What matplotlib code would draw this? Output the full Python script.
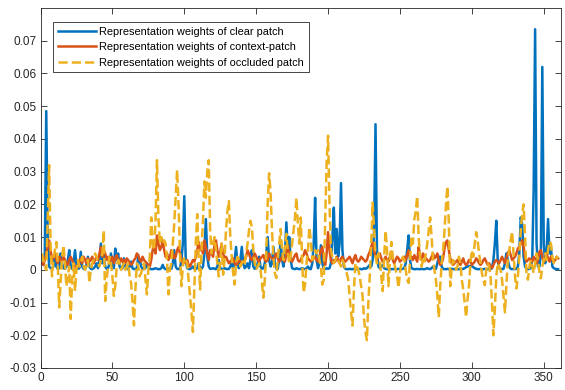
import matplotlib.pyplot as plt
import numpy as np

# values are in units of 1e-3
clear_patch = [
    2, 1.5, 5, 48.5, 10, 1, 0.5, 0.3, 1, 4.5, 1, 0.3, 0.5, 5, 2, 0.5, 0.3, 1, 3, 6,
    1, 0.3, 2, 6, 1.5, 0.3, 0.5, 5.5, 1, 0.3, 0.2, 1.5, 4, 1, 0.3, 0.2, 0.5, 1, 2, 0.5,
    3, 8, 2, 4.5, 1, 0.3, 0.5, 2, 5, 1, 0.5, 6.5, 3, 5, 1, 0.3, 0.5, 3.5, 1, 0.3,
    0.2, 1, 2.5, 0.5, 0.2, 0.3, 0.5, 4, 3, 1, 0.3, 0.2, 0.5, 2, 1, 0.3, 0.2, 0.2, 0.3, 0.5,
    0.3, 0.2, 0.2, 0.5, 1.5, 0.5, 0.2, 0.2, 0.3, 0.5, 0.3, 2, 6, 1, 0.3, 0.2, 0.5, 3, 8, 22.5,
    3, 0.5, 0.3, 0.2, 0.5, 1, 0.3, 0.2, 0.5, 2, 0.5, 0.3, 1, 5, 15.5, 4, 1, 0.3, 0.3, 0.5,
    0.3, 0.2, 1, 3, 0.5, 0.3, 0.2, 0.5, 0.3, 0.2, 0.3, 1, 2, 0.5, 3, 7, 2, 0.5, 3, 7,
    2, 0.5, 1, 2, 0.5, 3, 6, 1, 0.3, 0.5, 2, 4, 1, 0.3, 0.5, 2, 5, 10, 3, 1,
    2, 7, 2, 0.5, 0.3, 3, 9, 3, 1, 5, 14.5, 6, 10, 3, 0.5, 0.3, 0.2, 0.5, 0.3, 0.2,
    0.3, 0.5, 0.3, 0.2, 0.5, 1, 0.3, 0.2, 2, 8, 22, 3, 0.5, 2, 7.5, 2, 0.3, 0.2, 0.5, 0.3,
    0.5, 2, 10, 19, 5, 12.5, 4, 8, 26.5, 6, 1, 0.3, 0.2, 0.2, 0.3, 0.2, 0.2, 0.3, 0.2, 0.2,
    0.2, 0.3, 0.2, 0.2, 0.5, 0.3, 0.5, 1, 1.5, 1, 3, 12, 44.5, 6, 1, 0.5, 1, 1.5, 0.5, 0.3,
    0.2, 0.2, 0.3, 0.2, 0.2, 0.3, 0.2, 0.2, 0.3, 0.2, 0.2, 0.3, 0.5, 2, 6, 10.5, 3, 0.5, 0.3, 0.2,
    0.2, 0.3, 0.2, 0.2, 0.3, 0.2, 0.2, 0.3, 0.5, 0.3, 0.2, 0.5, 1, 0.5, 0.3, 2, 4, 4, 1, 0.3,
    0.2, 0.2, 0.3, 0.2, 0.2, 0.3, 0.2, 0.2, 0.3, 0.2, 0.2, 0.3, 0.2, 0.3, 0.5, 0.8, 1, 1.2, 1, 1.2,
    0.8, 0.5, 0.3, 0.2, 0.2, 0.3, 0.2, 0.2, 0.3, 0.2, 0.2, 0.3, 0.2, 0.5, 3, 8, 15, 3, 0.5, 0.3,
    0.2, 0.3, 2, 5, 3, 1, 0.3, 0.2, 0.3, 0.2, 0.3, 1, 5, 16, 14, 4, 1, 0.3, 0.2, 0.3,
    0.5, 3, 25, 73.5, 8, 1, 1, 5, 62, 8, 2, 6, 15.5, 5, 7, 1, 0.5, 0.3, 0.2, 0.2,
]

context_patch = [
    2, 1.5, 3, 5, 7, 9, 6, 3, 4, 5, 3, 2, 4, 3, 2.5, 4, 3, 2, 1.5, 3,
    4, 3, 2, 1, 0.5, 1, 2.5, 3.5, 2, 4, 3, 2, 3.5, 2.5, 3, 4, 2, 3, 4, 3,
    5, 7, 4, 6, 5, 3, 4, 2.5, 3, 4, 2, 3.5, 4.5, 3, 2, 3.5, 2.5, 3, 2, 3.5,
    3, 2, 1.5, 2, 3, 3.5, 5, 4.5, 3, 2.5, 4, 3, 2.5, 2, 1.5, 1, 3, 6, 7.5, 5,
    10.5, 8, 6, 7, 9, 6, 4, 5, 3, 4, 6, 5, 3.5, 4, 6, 7, 5, 3, 2, 2.5,
    2, 3, 1.5, 1, 2, 3, 2.5, 4, 6, 8.5, 6, 7, 5, 9, 7, 5, 3, 6, 5, 4,
    7.5, 9, 6, 4, 5.5, 8, 5, 3.5, 4, 3, 2, 2.5, 3, 3.5, 2, 1.5, 2, 3, 2.5, 2,
    2.5, 3, 4, 6, 5, 3.5, 3, 4, 5, 4, 3, 2.5, 3.5, 4, 4.5, 3, 2.5, 3, 5, 4,
    3.5, 3, 4, 5, 3.5, 2.5, 3, 4, 3, 2.5, 5, 7.5, 4, 3, 2.5, 3.5, 4.5, 5, 3, 2.5,
    3, 4, 4.5, 6, 5, 3.5, 3, 2.5, 3, 3.5, 4, 3, 2.5, 4, 6, 7, 3, 1.5, 5, 11.5,
    6, 3, 2, 3, 2.5, 4, 3, 2, 3.5, 4, 3, 2.5, 3, 3.5, 4, 3, 2, 3.5, 4.5, 3,
    2.5, 3, 4, 3.5, 3, 2.5, 3, 4.5, 5.5, 7, 8.5, 6, 4, 3, 4, 5, 3.5, 2.5, 3, 4,
    3, 2.5, 4, 5.5, 3, 2, 3, 4, 3.5, 2.5, 3, 3.5, 4, 3, 4.5, 6, 3.5, 4, 3, 4.5,
    3.5, 2.5, 7, 4, 3, 5, 4, 3.5, 3, 2.5, 3, 4, 5, 3.5, 4, 5, 2.5, 1.5, 2, 3.5,
    6.5, 8.5, 9, 6, 3.5, 2, 1.5, 2, 2.5, 3, 2, 1.5, 2.5, 3.5, 2, 1.5, 2, 3, 2.5, 1.5,
    2, 2.5, 3.5, 3, 2, 1.5, 2, 3, 3.5, 2.5, 1.5, 2, 1, 0.5, 1.5, 2.5, 3, 2.5, 2, 3,
    4, 3, 2, 3.5, 5, 6, 4.5, 3, 3.5, 4, 5, 6.5, 7, 8, 9, 7, 4, 2.5, 3, 3.5,
    3, 2.5, 4, 3.5, 2, 3, 5.5, 6, 4, 2.5, 3, 5, 3.5, 2.5, 4, 3, 2.5, 3, 4, 3.5,
]

occluded_patch = [
    5, 3, 1, 0, 15, 32, 8, -2, 3, 6, 8.5, 2, -11.5, -4, 4, 7.5, 2, -5, -2, 1,
    -15, -3, 2, -6.5, 0, 3, 1, 2, 4, 1, 0, 2, 3, -4, 0, 2, 3, 5, 4, 2,
    1, 3, 5, 12, -9.5, -3, 1, 4, 2, -2, -8, -5, 1, 3, 2, 0, 1, 2, 0, 1,
    2, -2, -4, -10, -17, -6, 2, 1, -2, -1, 1, 2, -3, -7.5, 0, 4, 16, 8, 6, 15,
    33.5, 16, 8, 10, 8, 9, 8, 3, -7.5, 0, 2, 8, 14, 22, 30.5, 20, 5, -5, 1, 4,
    3, 2, -3, -8, -13, -19, -5, 8, 17, 4, -6, 6, 15, 27, 22, 30, 33.5, 12, 5, 8,
    10, 6, 2, -2, 3, 8, -1.5, 3, 12, 18, 21, 10, 4, -1, -4.5, 2, 4, 3, 1, 2,
    3, 2, 5, 8, 12, 15, 13, 6, 2, 0, 1, 2, 0, -4, -8.5, -3, 5, 20, 29.5, 24,
    12, 4, -1, -2.5, 3, 8, 12.5, 6, 3, 7, 11, 5, 2, 4, 8, 12, 16, 22, 14, 8,
    16, 2, -7, -4.5, 2, 6, 13, 9, 3, 4, 6, 5, 6, 3, 1, -4.5, -3, 15, 33, 41,
    20, 6, 4, 2, 3, 4, 3, 2, 1, 3, 2, 0, -1, -3, -8, -13, -17, -6, 2, 1,
    0, -2, -5, -8, -15, -19, -21.5, -10, -2, 8, 20.5, 12, 4, 2, 5, 3, -2, -6.5, 4, 12,
    6, -5, 3, 8.5, 4, 2, 0, -2, -5.5, -1, 2, 4, 3, 0, -3, -4, 3, 10, 8, 15.5,
    18, 22.5, 10, 4, 1, 3, 2, 5, 8, 12, 16, 10, 3, 0, -3, -8, -14.5, -5, 2, 6,
    12, 20, 25.5, 14, -5, 1, 3, 2, 0, 1, 4, 2, -3, -6, -10, -14.5, -9, -5, 2, 6,
    4, 8, 11.5, 9, 5, 2, -1, -3, -4.7, 0, 2, 1, -2, -10, -20, -12, -2, 2, 1, 0,
    -3, -8, -13, -5, 3, 6, 9, 11.7, 5, -2, -5.7, -2, 4, 12, 17, 20, 10, -1, -3, 1,
    3, 1, -1, 2, 5, 3, -1, -2.6, 1, 3, 5, 3, 6, 8.7, 8, 4, 2, 3, 4, 3.5,
]

labels = ["Representation weights of clear patch",
          "Representation weights of context-patch",
          "Representation weights of occluded patch"]
yticks = [-0.03, -0.02, -0.01, 0, 0.01, 0.02, 0.03, 0.04, 0.05, 0.06, 0.07]
ytick_labels = ["-0.03", "-0.02", "-0.01", "0", "0.01", "0.02", "0.03", "0.04", "0.05", "0.06", "0.07"]
xticks = [0, 50, 100, 150, 200, 250, 300, 350]

plt.rcParams['font.family'] = ['Liberation Sans', 'DejaVu Sans']
plt.rcParams['axes.unicode_minus'] = False

fig = plt.figure(figsize=(5.65, 3.9), dpi=100)
ax = fig.add_axes([40.5 / 565, 1 - 368 / 390, (561 - 40.5) / 565, (368 - 8) / 390])

x = np.arange(1, len(clear_patch) + 1)
ax.plot(x, np.array(clear_patch) / 1000, color='#0072BD', lw=1.8, label=labels[0])
ax.plot(x, np.array(context_patch) / 1000, color='#D95319', lw=1.8, label=labels[1])
ax.plot(x, np.array(occluded_patch) / 1000, color='#EDB120', lw=1.8, ls='--', label=labels[2])

ax.set_xlim(0, 362)
ax.set_ylim(-0.03, 0.08)
ax.set_xticks(xticks)
ax.set_yticks(yticks)
ax.set_yticklabels(ytick_labels)

axis_col = '#262626'
for s in ax.spines.values():
    s.set_color(axis_col)
    s.set_linewidth(0.6)
ax.tick_params(direction='in', top=True, right=True, length=4, width=0.6,
               colors=axis_col, labelsize=8.5, pad=3)

leg = ax.legend(loc='upper left', bbox_to_anchor=(12.8 / 520.5, 1 - 14.3 / 360),
                fontsize=7.9, handlelength=3.45, borderpad=0.4, labelspacing=0.5,
                handletextpad=0.36, fancybox=False, framealpha=1, borderaxespad=0)
leg.get_frame().set_edgecolor(axis_col)
leg.get_frame().set_linewidth(0.6)

fig.savefig('out.png', dpi=100)
